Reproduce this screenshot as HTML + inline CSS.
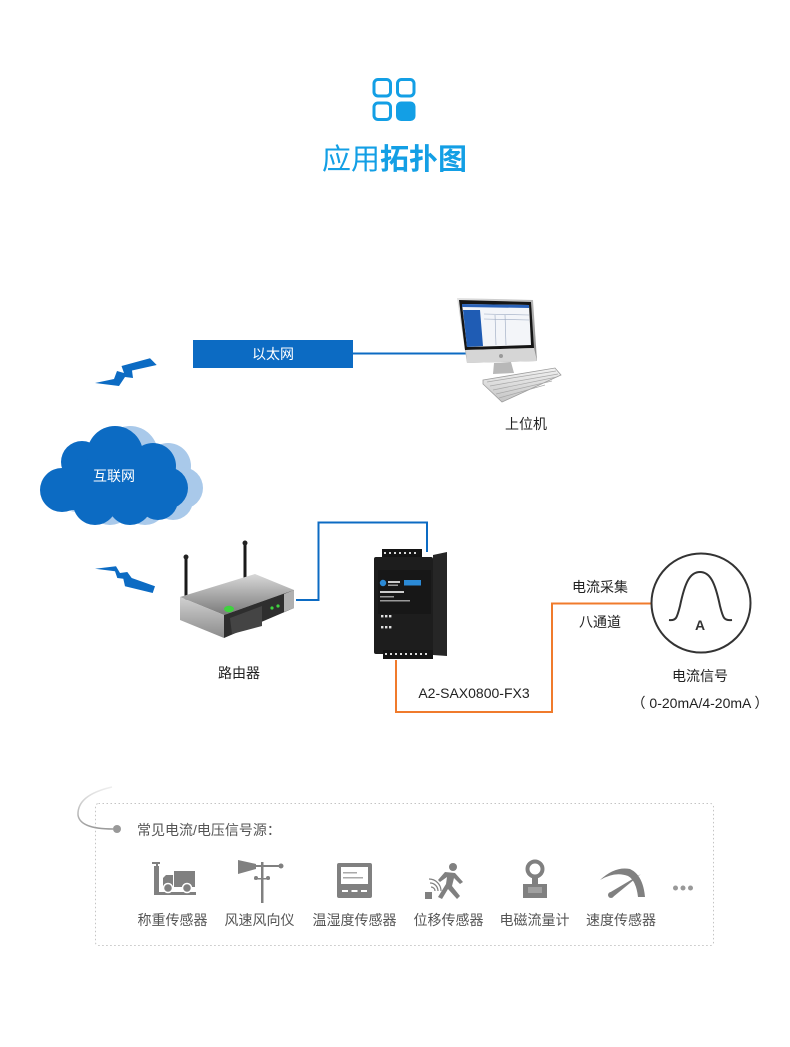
<!DOCTYPE html>
<html><head><meta charset="utf-8"><style>
html,body{margin:0;padding:0;background:#fff;}
svg{display:block;}
text{font-family:"Liberation Sans","Noto Sans CJK SC",sans-serif;}
</style></head><body>
<svg width="790" height="1047" viewBox="0 0 790 1047" xmlns="http://www.w3.org/2000/svg">
<defs>
 <linearGradient id="arcg" x1="0" y1="0" x2="0" y2="1"><stop offset="0" stop-color="#eeeeee"/><stop offset="1" stop-color="#9a9a9a"/></linearGradient>
 <linearGradient id="silv" x1="0" y1="0" x2="1" y2="1"><stop offset="0" stop-color="#e4e4e4"/><stop offset="1" stop-color="#8a8a8a"/></linearGradient>
 <linearGradient id="rtop" x1="0" y1="0" x2="0" y2="1"><stop offset="0" stop-color="#d8d8d8"/><stop offset="1" stop-color="#7a7a7a"/></linearGradient>
 <linearGradient id="rfl" x1="0" y1="0" x2="0" y2="1"><stop offset="0" stop-color="#d0d0d0"/><stop offset="1" stop-color="#8c8c8c"/></linearGradient>
 <linearGradient id="kb" x1="0" y1="0" x2="0" y2="1"><stop offset="0" stop-color="#f2f2f2"/><stop offset="1" stop-color="#c4c4c4"/></linearGradient>
</defs>

<!-- title icon -->
<g fill="none" stroke="#139fe5" stroke-width="3">
 <rect x="374" y="79.5" width="16.5" height="16.5" rx="4"/>
 <rect x="397.5" y="79.5" width="16.5" height="16.5" rx="4"/>
 <rect x="374" y="103" width="16.5" height="16.5" rx="4"/>
</g>
<rect x="396" y="101.5" width="19.5" height="19.5" rx="5" fill="#139fe5"/>
<text x="394.5" y="169" text-anchor="middle" font-size="29" fill="#139fe5"><tspan>应用</tspan><tspan font-weight="bold">拓扑图</tspan></text>

<!-- lightning 1 -->
<polygon points="95,383 114,379 117,371 124,373 121.5,366 150,358.3 156.7,365 132,370.5 133,378 125,377 119,386" fill="#0c6bc3"/>
<!-- ethernet box -->
<rect x="193" y="340" width="160" height="28" fill="#0c6bc3"/>
<text x="273" y="359" text-anchor="middle" font-size="14" fill="#ffffff">以太网</text>
<line x1="353" y1="353.5" x2="466" y2="353.5" stroke="#0c6bc3" stroke-width="2"/>

<!-- monitor -->
<polygon points="457,298 533,300 537,361 467,363" fill="url(#silv)"/>
<polygon points="459,300 531,302 534,348 465,350" fill="#151515"/>
<polygon points="462,304 529,305 531,345 467,347" fill="#f3f5f9"/>
<polygon points="462,304 529,305 529,308 462,307" fill="#2a62b8"/>
<polygon points="463,310 480,310 483,346 467,347" fill="#1f5cb4"/>
<g stroke="#9aa8c0" stroke-width="0.6">
 <line x1="484" y1="314" x2="529" y2="315"/>
 <line x1="484" y1="319" x2="529" y2="320"/>
 <line x1="495" y1="315" x2="496" y2="345"/>
 <line x1="505" y1="315" x2="506" y2="345"/>
</g>
<polygon points="466,350 534,348 537,361 467,363" fill="#d6d6d6"/>
<circle cx="501" cy="356" r="2" fill="#9a9a9a"/>
<polygon points="494,363 511,362 514,373 493,374" fill="#b8b8b8"/>
<!-- keyboard -->
<polygon points="483,380 555,368 561,375 502,402 483,384" fill="url(#kb)" stroke="#9c9c9c" stroke-width="0.8"/>
<g stroke="#a8a8a8" stroke-width="0.7">
 <line x1="487" y1="382" x2="556" y2="371"/>
 <line x1="490" y1="386" x2="558" y2="374"/>
 <line x1="493" y1="390" x2="557" y2="377"/>
 <line x1="496" y1="394" x2="552" y2="381"/>
 <line x1="499" y1="398" x2="545" y2="385"/>
</g>
<text x="526" y="429" text-anchor="middle" font-size="14" fill="#222">上位机</text>

<!-- cloud light -->
<g fill="#a9c9ea" transform="translate(15,0)">
 <circle cx="62" cy="490" r="22"/><circle cx="82" cy="462" r="21"/><circle cx="115" cy="454" r="28"/>
 <circle cx="153" cy="466" r="23"/><circle cx="167" cy="488" r="21"/><circle cx="95" cy="503" r="22"/>
 <circle cx="130" cy="503" r="22"/><circle cx="158" cy="500" r="20"/><rect x="62" y="460" width="105" height="50"/>
</g>
<g fill="#0c6bc3">
 <circle cx="62" cy="490" r="22"/><circle cx="82" cy="462" r="21"/><circle cx="115" cy="454" r="28"/>
 <circle cx="153" cy="466" r="23"/><circle cx="167" cy="488" r="21"/><circle cx="95" cy="503" r="22"/>
 <circle cx="130" cy="503" r="22"/><circle cx="158" cy="500" r="20"/><rect x="62" y="460" width="105" height="50"/>
</g>
<text x="114" y="481" text-anchor="middle" font-size="14" fill="#ffffff">互联网</text>

<!-- lightning 2 -->
<polygon points="95,568.7 116,566.3 120,573 127.3,572 131.7,578 155,586.3 152.7,593 125,586.3 123.3,578.7 117.3,578 115,571.3" fill="#0c6bc3"/>

<!-- router -->
<line x1="186" y1="557" x2="186" y2="602" stroke="#1a1a1a" stroke-width="3"/>
<circle cx="186" cy="557" r="2.5" fill="#222"/>
<line x1="245" y1="543" x2="245" y2="582" stroke="#1a1a1a" stroke-width="3"/>
<circle cx="245" cy="543" r="2.5" fill="#222"/>
<polygon points="180,597 255,574 294,590 224,615" fill="url(#rtop)"/>
<polygon points="180,597 224,615 224,638 180,620" fill="url(#rfl)"/>
<polygon points="224,615 294,590 294,608 224,638" fill="#2e2e2e"/>
<polygon points="230,618 262,606 262,626 232,634" fill="#444"/>
<polygon points="284,594 294,590 294,608 284,612" fill="#b0b0b0"/>
<ellipse cx="229" cy="609" rx="5" ry="3.2" fill="#3fd23f"/>
<circle cx="272" cy="608" r="1.6" fill="#3fd23f"/>
<circle cx="278" cy="606" r="1.6" fill="#3fd23f"/>
<text x="239" y="678" text-anchor="middle" font-size="14" fill="#222">路由器</text>

<!-- router to device blue line -->
<polyline points="296,600 318.5,600 318.5,522.5 427,522.5 427,552" fill="none" stroke="#0c6bc3" stroke-width="2"/>

<!-- device -->
<rect x="382" y="549" width="40" height="9" fill="#141414"/>
<g fill="#d8d8d8"><rect x="384" y="552" width="2" height="2"/><rect x="389" y="552" width="2" height="2"/><rect x="394" y="552" width="2" height="2"/><rect x="399" y="552" width="2" height="2"/><rect x="404" y="552" width="2" height="2"/><rect x="409" y="552" width="2" height="2"/><rect x="414" y="552" width="2" height="2"/></g>
<polygon points="433,555 447,552 447,656 433,655" fill="#262626"/>
<rect x="374" y="557" width="59" height="97" rx="2" fill="#1d1d1d"/>
<rect x="378" y="570" width="53" height="44" fill="#171717"/>
<circle cx="383" cy="583" r="3.2" fill="#2b8ad6"/>
<rect x="388" y="581" width="12" height="2" fill="#ccc"/>
<rect x="388" y="584.5" width="10" height="1.5" fill="#999"/>
<rect x="404" y="580" width="17" height="5.5" fill="#2b8ad6"/>
<rect x="380" y="591" width="24" height="2" fill="#ccc"/>
<rect x="380" y="596" width="14" height="1.5" fill="#999"/>
<rect x="380" y="600" width="30" height="1.5" fill="#999"/>
<g fill="#e0e0e0"><rect x="381" y="615" width="2.4" height="2.4"/><rect x="385" y="615" width="2.4" height="2.4"/><rect x="389" y="615" width="2.4" height="2.4"/><rect x="381" y="626" width="2.4" height="2.4"/><rect x="385" y="626" width="2.4" height="2.4"/><rect x="389" y="626" width="2.4" height="2.4"/></g>
<rect x="383" y="650" width="50" height="9" fill="#141414"/>
<g fill="#d8d8d8"><rect x="385" y="653" width="2" height="2"/><rect x="390" y="653" width="2" height="2"/><rect x="395" y="653" width="2" height="2"/><rect x="400" y="653" width="2" height="2"/><rect x="405" y="653" width="2" height="2"/><rect x="410" y="653" width="2" height="2"/><rect x="415" y="653" width="2" height="2"/><rect x="420" y="653" width="2" height="2"/><rect x="425" y="653" width="2" height="2"/></g>

<!-- orange line -->
<polyline points="396,660 396,712 552,712 552,603.5 651,603.5" fill="none" stroke="#f07b2c" stroke-width="2"/>
<text x="474" y="698" text-anchor="middle" font-size="14" fill="#222">A2-SAX0800-FX3</text>
<text x="600" y="592" text-anchor="middle" font-size="14" fill="#222">电流采集</text>
<text x="600" y="627" text-anchor="middle" font-size="14" fill="#222">八通道</text>

<!-- current signal circle -->
<circle cx="701" cy="603" r="49.5" fill="#fff" stroke="#333" stroke-width="2"/>
<path d="M669,620 C676,621 677,618 680,606 C685,582 690,572 700,572 C710,572 715,582 720,606 C723,618 724,621 732,620" fill="none" stroke="#333" stroke-width="2"/>
<text x="700" y="630" text-anchor="middle" font-size="14" font-weight="bold" fill="#333">A</text>
<text x="700" y="681" text-anchor="middle" font-size="14" fill="#222">电流信号</text>
<text x="700" y="708" text-anchor="middle" font-size="14" fill="#222">（ 0-20mA/4-20mA ）</text>

<!-- bottom dotted box -->
<rect x="95.5" y="803.5" width="618" height="142" rx="3" fill="none" stroke="#c4c4c4" stroke-width="1" stroke-dasharray="1.5,2.5"/>
<path d="M112,787 Q77,795 78,815 Q80,829 113,829" fill="none" stroke="url(#arcg)" stroke-width="1.5"/>
<circle cx="117" cy="829" r="4" fill="#999"/>
<text x="137" y="835" font-size="14" fill="#555">常见电流/电压信号源：</text>

<!-- icons -->
<g fill="#808080">
 <!-- scale truck -->
 <rect x="152" y="862" width="8" height="2"/>
 <rect x="156" y="862" width="2" height="6"/>
 <rect x="154" y="866" width="5" height="27"/>
 <rect x="154" y="892" width="42" height="3"/>
 <rect x="174" y="871" width="21" height="16"/>
 <path d="M163,887 L163,878 L166,875 L173,875 L173,887 Z"/>
 <circle cx="168" cy="888" r="4.5" stroke="#fff" stroke-width="1.5"/>
 <circle cx="187" cy="888" r="4.5" stroke="#fff" stroke-width="1.5"/>
 <!-- wind vane -->
 <polygon points="238,860 256,864 256,869 238,874"/>
 <rect x="255" y="865" width="26" height="2"/>
 <circle cx="281" cy="866" r="2.5"/>
 <rect x="261" y="862" width="2.5" height="41"/>
 <rect x="254" y="878" width="16" height="1.5"/>
 <circle cx="256" cy="878" r="2"/><circle cx="268" cy="878" r="2"/>
 <!-- temp panel -->
 <rect x="337" y="863" width="35" height="35" rx="2"/>
 <rect x="341" y="867" width="27" height="17" fill="#fff"/>
 <rect x="343" y="872" width="14" height="1.5" fill="#aaa"/>
 <rect x="343" y="877" width="20" height="1.5" fill="#aaa"/>
 <rect x="342" y="890" width="6" height="2" fill="#fff"/><rect x="351.5" y="890" width="6" height="2" fill="#fff"/><rect x="361" y="890" width="6" height="2" fill="#fff"/>
 <!-- displacement person -->
 <circle cx="453" cy="867" r="4"/>
 <path d="M445,872 L455,873 L463,882 L460,884 L454,878 L452,886 L460,896 L457,899 L448,889 L442,899 L438,897 L446,884 L447,877 L440,882 L438,880 Z"/>
 <rect x="425" y="892" width="7" height="7"/>
 <path d="M431,887 a4,4 0 0 1 4,4" fill="none" stroke="#808080" stroke-width="1.2"/>
 <path d="M430,883 a8,8 0 0 1 8,8" fill="none" stroke="#808080" stroke-width="1.2"/>
 <path d="M429,879 a12,12 0 0 1 12,12" fill="none" stroke="#808080" stroke-width="1.2"/>
 <!-- flowmeter -->
 <circle cx="535" cy="869" r="7.5" fill="none" stroke="#808080" stroke-width="4"/>
 <rect x="532" y="876" width="6" height="8"/>
 <rect x="523" y="884" width="24" height="14"/>
 <rect x="528" y="887" width="14" height="6" fill="#a0a0a0"/>
 <!-- gauge -->
 <path d="M600,880 Q615,866 630,869 Q643,875 645,897 L638,897 Q636,880 628,876 Q615,871 600,880 Z"/>
 <polygon points="609,893 641,874 613,897"/>
 <circle cx="611" cy="895" r="3"/>
</g>
<g fill="#999"><circle cx="675.5" cy="888" r="2.5"/><circle cx="683" cy="888" r="2.5"/><circle cx="690.5" cy="888" r="2.5"/></g>

<g font-size="14" fill="#555" text-anchor="middle">
 <text x="172.5" y="925">称重传感器</text>
 <text x="259.5" y="925">风速风向仪</text>
 <text x="354.5" y="925">温湿度传感器</text>
 <text x="448.5" y="925">位移传感器</text>
 <text x="534.5" y="925">电磁流量计</text>
 <text x="621" y="925">速度传感器</text>
</g>
</svg>
</body></html>
